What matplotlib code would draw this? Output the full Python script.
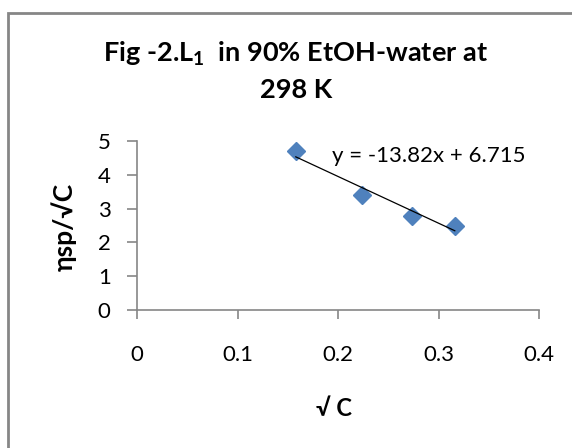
import numpy as np
import matplotlib.pyplot as plt
from matplotlib.patches import Rectangle

# dados
raiz_c = [0.158, 0.2236, 0.2739, 0.3162]
eta_sp_c = [4.71, 3.40, 2.79, 2.49]
inclinacao = -13.82
intercepto = 6.715
ticks_x = [0, 0.1, 0.2, 0.3, 0.4]
ticks_y = [0, 1, 2, 3, 4, 5]

plt.rcParams['font.family'] = ['Lato', 'DejaVu Sans']
plt.rcParams['mathtext.fontset'] = 'custom'
plt.rcParams['mathtext.rm'] = 'Lato'
plt.rcParams['mathtext.bf'] = 'Lato:bold'

cinza = '#868686'
azul = '#4F81BD'

fig = plt.figure(figsize=(5.72, 4.48), dpi=100)
ax = fig.add_axes([137 / 572, 1 - 310 / 448, 402 / 572, 169 / 448])

# moldura externa do gráfico
fig.patches.append(Rectangle((8 / 572, -0.1), 1.2, 1 - 13 / 448 + 0.1,
                             transform=fig.transFigure, fill=False,
                             edgecolor=cinza, linewidth=2))

ax.plot(raiz_c, eta_sp_c, linestyle='none', marker='D', markersize=9,
        color=azul)

# linha de tendência
xt = np.array([raiz_c[0], raiz_c[-1]])
ax.plot(xt, inclinacao * xt + intercepto, color='black', linewidth=0.9)

ax.text(0.194, 4.55, 'y = -13.82x + 6.715', fontsize=16, va='center')

ax.set_xlim(0, 0.4)
ax.set_ylim(0, 5)
ax.set_xticks(ticks_x)
ax.set_xticklabels(['0', '0.1', '0.2', '0.3', '0.4'])
ax.set_yticks(ticks_y)

for lado in ['top', 'right']:
    ax.spines[lado].set_visible(False)
for lado in ['left', 'bottom']:
    ax.spines[lado].set_color(cinza)
    ax.spines[lado].set_linewidth(1.2)

ax.tick_params(axis='x', direction='out', length=6.5, width=1.2, color=cinza,
               pad=19, labelsize=16)
ax.tick_params(axis='y', direction='out', length=7, width=1.2, color=cinza,
               pad=12, labelsize=16)

fig.text(295 / 572, 1 - 54 / 448, 'Fig -2.L$_\\mathbf{1}$  in 90% EtOH-water at',
         ha='center', va='center', fontsize=19.5, fontweight='bold')
fig.text(296 / 572, 1 - 90 / 448, '298 K', ha='center', va='center',
         fontsize=19.5, fontweight='bold')

fig.text(64 / 572, 1 - 227 / 448, 'ηsp/√C', rotation=90, ha='center',
         va='center', fontsize=19, fontweight='bold')
fig.text(334 / 572, 1 - 408 / 448, '√ C', ha='center', va='center',
         fontsize=17, fontweight='bold')

fig.savefig('out.png', dpi=100)
